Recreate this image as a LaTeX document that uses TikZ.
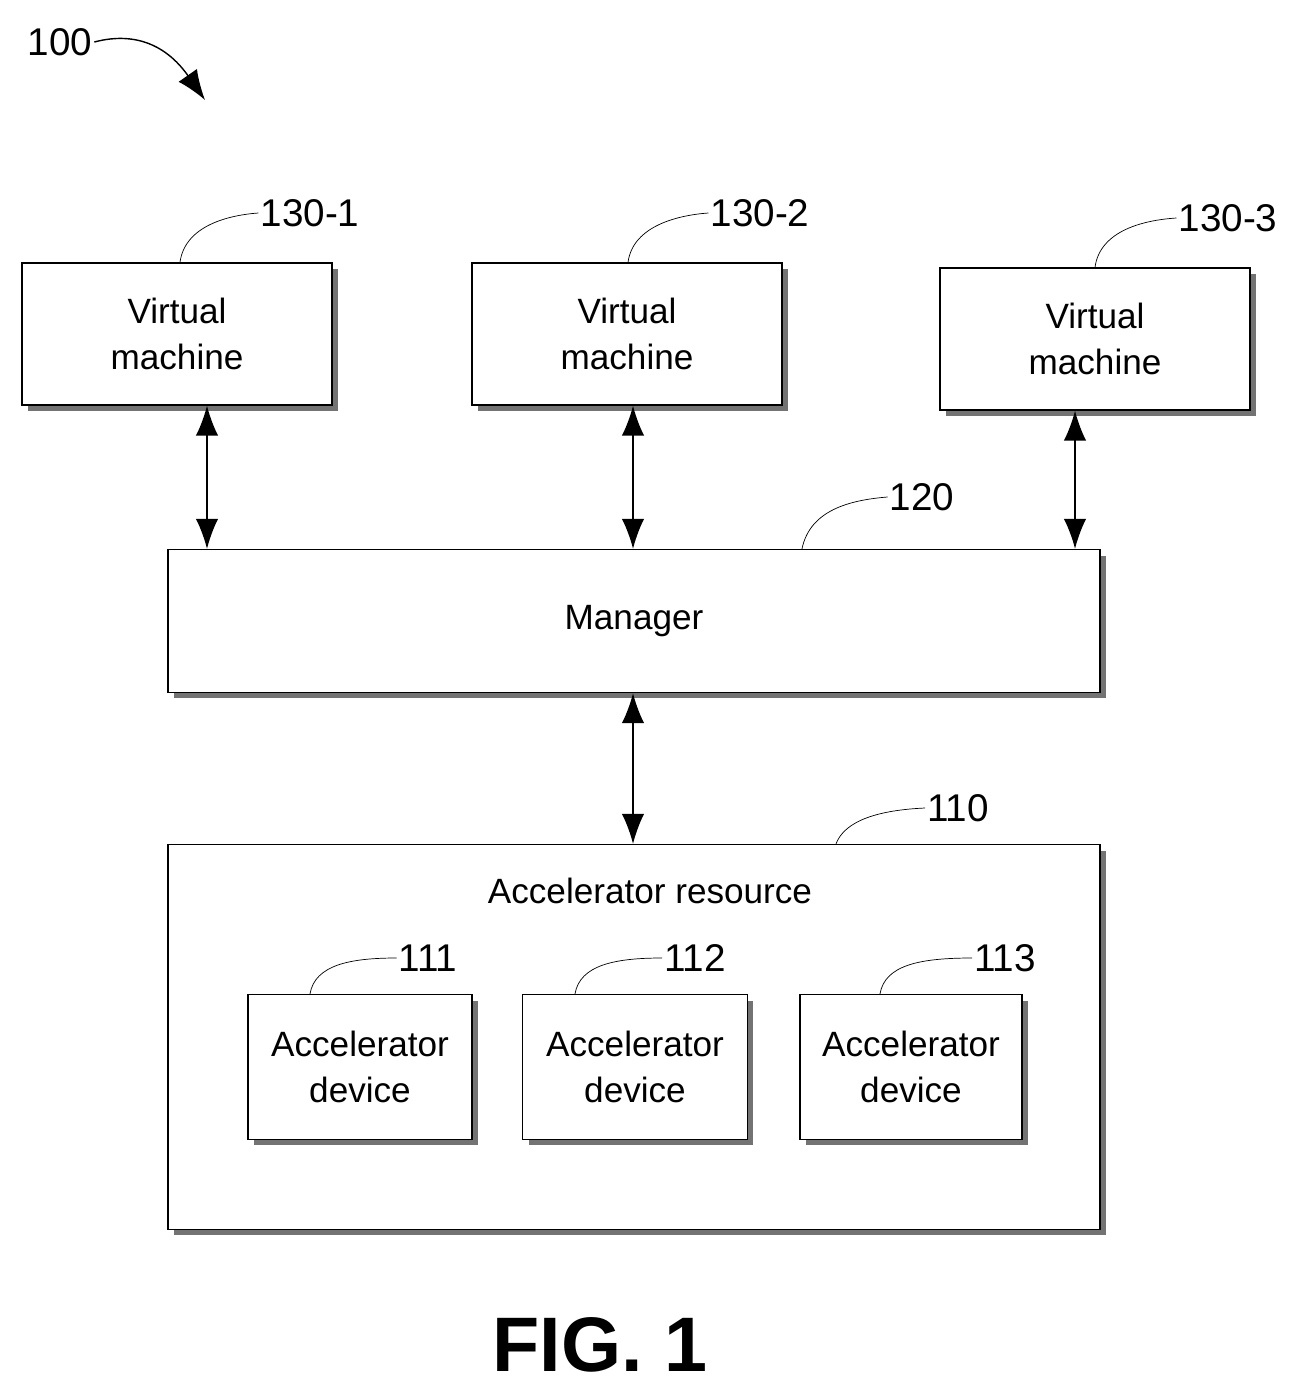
\documentclass[tikz,border=0pt]{standalone}
\usepackage{fontspec}
\setmainfont{Liberation Sans}
\usetikzlibrary{arrows.meta,shadows}
\begin{document}
\begin{tikzpicture}[x=0.02cm,y=-0.02cm]
  \tikzset{box/.style={draw,thick,fill=white,align=center,font=\fontsize{20}{26}\selectfont,
      drop shadow={shadow xshift=0.12cm,shadow yshift=-0.12cm,fill=black!55,opacity=1}}}
  \tikzset{link/.style={{Latex[length=0.6cm,width=0.45cm]}-{Latex[length=0.6cm,width=0.45cm]},thick}}
  \tikzset{lead/.style={thin}}
  \tikzset{num/.style={font=\fontsize{22}{26}\selectfont,inner sep=1pt}}
  \useasboundingbox (0,0) rectangle (1304,1395);
  % boxes
  \node[box,minimum width=6.2cm,minimum height=2.84cm] (vm1) at (177,334) {Virtual\\machine};
  \node[box,minimum width=6.2cm,minimum height=2.84cm] (vm2) at (627,334) {Virtual\\machine};
  \node[box,minimum width=6.2cm,minimum height=2.84cm] (vm3) at (1095,339) {Virtual\\machine};
  \node[box,minimum width=18.64cm,minimum height=2.86cm] (mgr) at (634,621) {Manager};
  \node[box,minimum width=18.64cm,minimum height=7.7cm] (res) at (634,1037) {};
  \node[font=\fontsize{20}{26}\selectfont] (restext) at (650,891) {Accelerator resource};
  \node[box,minimum width=4.48cm,minimum height=2.9cm] (dev1) at (360,1067) {Accelerator\\device};
  \node[box,minimum width=4.5cm,minimum height=2.9cm] (dev2) at (635,1067) {Accelerator\\device};
  \node[box,minimum width=4.44cm,minimum height=2.9cm] (dev3) at (911,1067) {Accelerator\\device};
  % connectors
  \draw[link] (vm1.south -| 207,0) -- (mgr.north -| 207,0);
  \draw[link] (vm2.south -| 633,0) -- (mgr.north -| 633,0);
  \draw[link] (vm3.south -| 1075,0) -- (mgr.north -| 1075,0);
  \draw[link] (mgr.south -| 633,0) -- (res.north -| 633,0);
  % reference numerals
  \node[num] (n100) at (60,42) {100};
  \coordinate (t100) at (205,100);
  \draw[thick,-{Latex[length=0.6cm,width=0.45cm]}] (n100.east) .. controls (140,30) and (170,50) .. (t100);
  \node[num] (n1301) at (310,213) {130-1};
  \draw[lead] (vm1.north -| 180,0) .. controls (185,225) and (230,215) .. (n1301.west);
  \node[num] (n1302) at (760,213) {130-2};
  \draw[lead] (vm2.north -| 628,0) .. controls (633,225) and (680,215) .. (n1302.west);
  \node[num] (n1303) at (1228,218) {130-3};
  \draw[lead] (vm3.north -| 1095,0) .. controls (1100,230) and (1145,220) .. (n1303.west);
  \node[num] (n120) at (922,497) {120};
  \draw[lead] (mgr.north -| 802,0) .. controls (810,510) and (850,500) .. (n120.west);
  \node[num] (n110) at (958,808) {110};
  \draw[lead] (res.north -| 836,0) .. controls (845,820) and (880,810) .. (n110.west);
  \node[num] (n111) at (428,958) {111};
  \draw[lead] (dev1.north -| 310,0) .. controls (315,965) and (350,958) .. (n111.west);
  \node[num] (n112) at (695,958) {112};
  \draw[lead] (dev2.north -| 575,0) .. controls (580,965) and (615,958) .. (n112.west);
  \node[num] (n113) at (1005,958) {113};
  \draw[lead] (dev3.north -| 880,0) .. controls (885,965) and (920,958) .. (n113.west);
  \node[font=\bfseries\fontsize{44}{50}\selectfont] (fig) at (600,1345) {FIG. 1};
\end{tikzpicture}
\end{document}
